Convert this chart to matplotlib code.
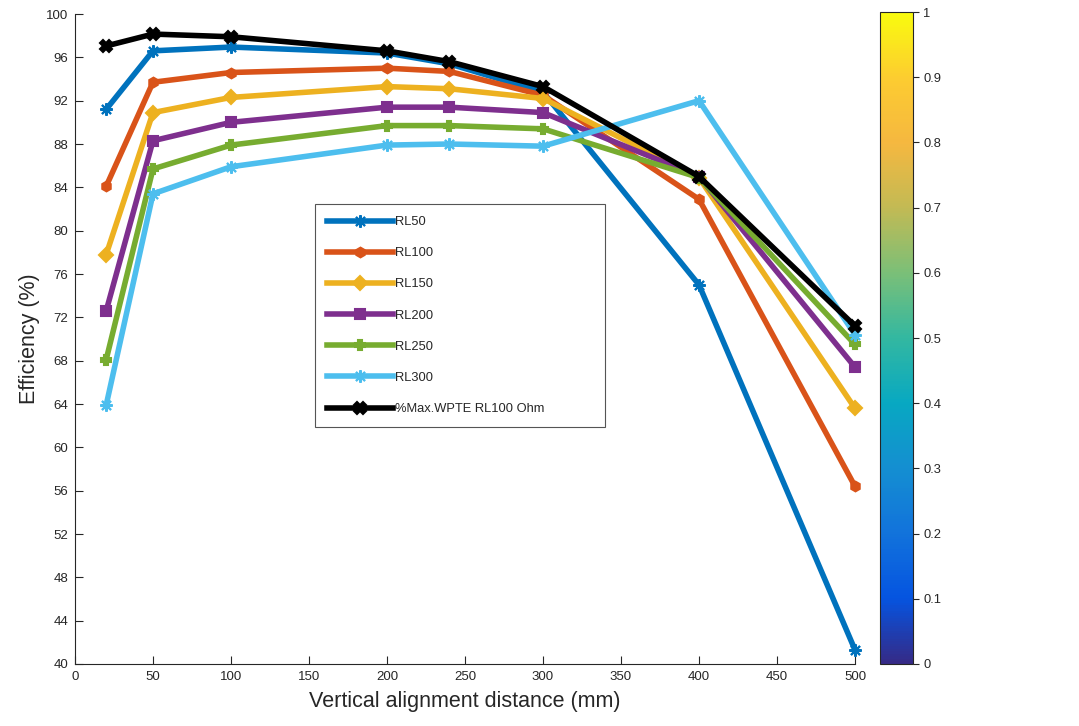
import matplotlib
matplotlib.use("Agg")
import matplotlib.pyplot as plt
from matplotlib.colors import LinearSegmentedColormap
from matplotlib.cm import ScalarMappable
from matplotlib.colors import Normalize

plt.rcParams['font.family'] = ['Liberation Sans', 'DejaVu Sans']

# Vertical alignment distance (mm)
distance = [20, 50, 100, 200, 240, 300, 400, 500]

# Efficiency (%) per load resistance
rl50 = [91.2, 96.6, 96.95, 96.4, 95.4, 92.8, 75.0, 41.3]
rl100 = [84.1, 93.7, 94.6, 95.0, 94.7, 92.5, 82.9, 56.4]
rl150 = [77.8, 90.9, 92.3, 93.3, 93.1, 92.2, 84.9, 63.6]
rl200 = [72.6, 88.3, 90.0, 91.4, 91.4, 90.9, 85.0, 67.4]
rl250 = [68.1, 85.7, 87.9, 89.7, 89.7, 89.4, 84.9, 69.5]
rl300 = [63.9, 83.4, 85.9, 87.9, 88.0, 87.8, 92.0, 70.4]
max_wpte = [97.05, 98.15, 97.9, 96.6, 95.6, 93.3, 85.0, 71.2]

labels = ['RL50', 'RL100', 'RL150', 'RL200', 'RL250', 'RL300', '%Max.WPTE RL100 Ohm']
colors = ['#0072BD', '#D95319', '#EDB120', '#7E2F8E', '#77AC30', '#4DBEEE', '#000000']
markers = [(8, 2, 0), 'h', 'D', 's', 'P', (8, 2, 0), 'X']
msizes = [9, 7, 7, 6.5, 7, 9, 8]

x_ticks = list(range(0, 501, 50))
y_ticks = list(range(40, 101, 4))
cbar_ticks = [i / 10 for i in range(11)]

fig = plt.figure(figsize=(10.79, 7.26), dpi=100)
ax = fig.add_axes([0.0695, 0.0854, 0.7229, 0.8953])

series = [rl50, rl100, rl150, rl200, rl250, rl300, max_wpte]
for vals, lab, col, mk, ms in zip(series, labels, colors, markers, msizes):
    ax.plot(distance, vals, color=col, lw=4, marker=mk, ms=ms,
            markeredgewidth=1.5, markeredgecolor=col, label=lab,
            solid_joinstyle='round', clip_on=False)

ax.set_xlim(0, 500)
ax.set_ylim(40, 100)
ax.set_xticks(x_ticks)
ax.set_yticks(y_ticks)
ax.tick_params(direction='in', length=6, width=0.8, labelsize=9.5,
               colors='#262626', pad=5)
for s in ['top', 'right']:
    ax.spines[s].set_visible(False)
for s in ['left', 'bottom']:
    ax.spines[s].set_color('#262626')
    ax.spines[s].set_linewidth(0.8)

ax.set_xlabel('Vertical alignment distance (mm)', fontsize=15.5, color='#262626', labelpad=6)
ax.set_ylabel('Efficiency (%)', fontsize=15.5, color='#262626', labelpad=4)

leg = ax.legend(loc='upper left', bbox_to_anchor=(0.308, 0.707, 0.372, 0.0),
                mode='expand', fontsize=9.3, handlelength=5.1, labelspacing=1.48,
                borderpad=0.9, handletextpad=0.15, fancybox=False, framealpha=1,
                edgecolor='#555555', borderaxespad=0)
leg.get_frame().set_linewidth(0.8)
for t in leg.get_texts():
    t.set_color('#262626')

# parula-like colormap
parula_pts = [
    (0.000, (0.208, 0.166, 0.529)),
    (0.100, (0.020, 0.330, 0.880)),
    (0.200, (0.070, 0.450, 0.860)),
    (0.300, (0.080, 0.560, 0.820)),
    (0.400, (0.030, 0.660, 0.760)),
    (0.500, (0.200, 0.720, 0.630)),
    (0.600, (0.480, 0.750, 0.470)),
    (0.700, (0.760, 0.730, 0.330)),
    (0.800, (0.960, 0.720, 0.250)),
    (0.900, (0.990, 0.800, 0.190)),
    (1.000, (0.976, 0.984, 0.055)),
]
parula = LinearSegmentedColormap.from_list('parula', parula_pts)

cax = fig.add_axes([0.8156, 0.0854, 0.0306, 0.898])
cb = fig.colorbar(ScalarMappable(norm=Normalize(0, 1), cmap=parula), cax=cax)
cb.set_ticks(cbar_ticks)
cb.set_ticklabels(['0', '0.1', '0.2', '0.3', '0.4', '0.5', '0.6', '0.7', '0.8', '0.9', '1'])
cax.tick_params(direction='out', length=4, width=0.8, labelsize=9.3, colors='#262626')
cb.outline.set_edgecolor('#262626')
cb.outline.set_linewidth(0.8)

fig.savefig('out.png', dpi=100, facecolor='white')
